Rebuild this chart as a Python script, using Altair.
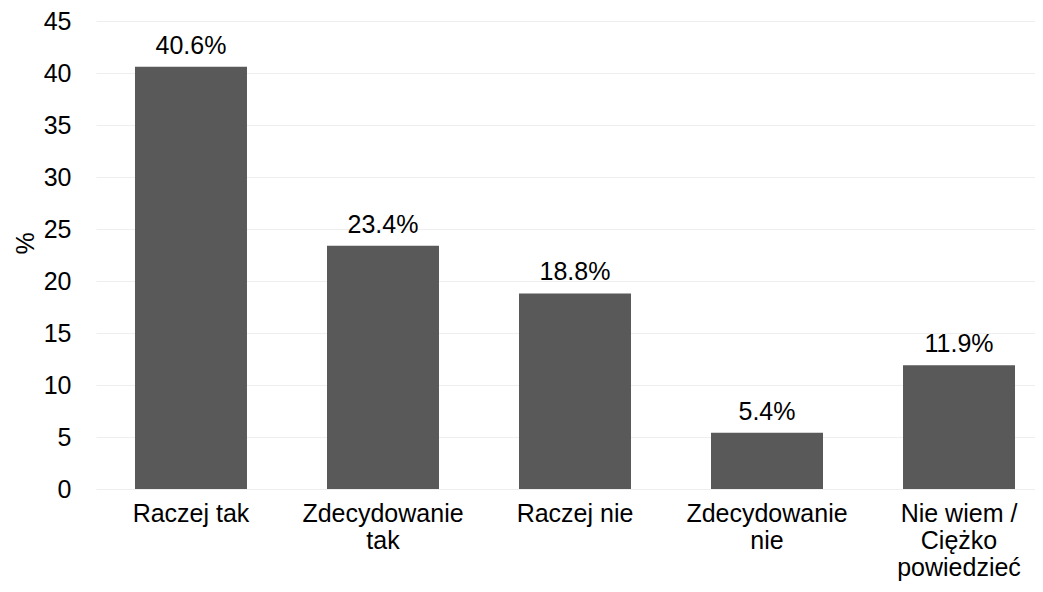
import altair as alt
import pandas as pd

categories = ["Raczej tak", "Zdecydowanie tak", "Raczej nie", "Zdecydowanie nie", "Nie wiem / Ciężko powiedzieć"]
axis_labels = ["Raczej tak", "Zdecydowanie\ntak", "Raczej nie", "Zdecydowanie\nnie", "Nie wiem /\nCiężko\npowiedzieć"]
values = [40.6, 23.4, 18.8, 5.4, 11.9]
y_ticks = [0, 5, 10, 15, 20, 25, 30, 35, 40, 45]

df = pd.DataFrame({"cat": axis_labels, "val": values})
df["lbl"] = [f"{v:.1f}%" for v in values]

FONT = "Liberation Sans"
FS = 25

x_scale = alt.Scale(paddingInner=0.4167, paddingOuter=0.1536, align=0.661)
y_scale = alt.Scale(domain=[0, 45], nice=False)

x = alt.X(
    "cat:N",
    sort=axis_labels,
    title=None,
    scale=x_scale,
    axis=alt.Axis(
        labelExpr="split(datum.label, '\\n')",
        labelAngle=0,
        labelFont=FONT,
        labelFontSize=FS,
        labelColor="#000000",
        labelLineHeight=27,
        labelPadding=12,
        labelBaseline="top",
        ticks=False,
        domain=False,
        grid=False,
    ),
)

y = alt.Y(
    "val:Q",
    title="%",
    scale=y_scale,
    axis=alt.Axis(
        values=y_ticks,
        labelFont=FONT,
        labelFontSize=FS,
        labelColor="#000000",
        labelPadding=25,
        ticks=False,
        domain=False,
        grid=True,
        gridColor="#eeeeee",
        gridWidth=1,
        titleFont=FONT,
        titleFontSize=FS,
        titleFontWeight="normal",
        titleColor="#000000",
        titleAngle=-90,
        titleX=-71,
        titleY=222,
        titleAlign="center",
        titleBaseline="middle",
    ),
)

bars = alt.Chart(df).mark_bar(color="#595959").encode(x=x, y=y)
text = alt.Chart(df).mark_text(
    font=FONT, fontSize=FS, color="#000000", baseline="alphabetic", dy=-13
).encode(
    x=alt.X("cat:N", sort=axis_labels),
    y=alt.Y("val:Q"),
    text="lbl:N",
)

chart = (
    alt.layer(bars, text)
    .properties(
        width=939,
        height=468,
        padding={"left": 88, "top": 13, "right": 0, "bottom": 95},
        autosize=alt.AutoSizeParams(type="none"),
        background="white",
    )
    .configure_view(strokeWidth=0, stroke="transparent")
)

chart.save("out.html", embed_options={"renderer": "svg", "actions": False})
